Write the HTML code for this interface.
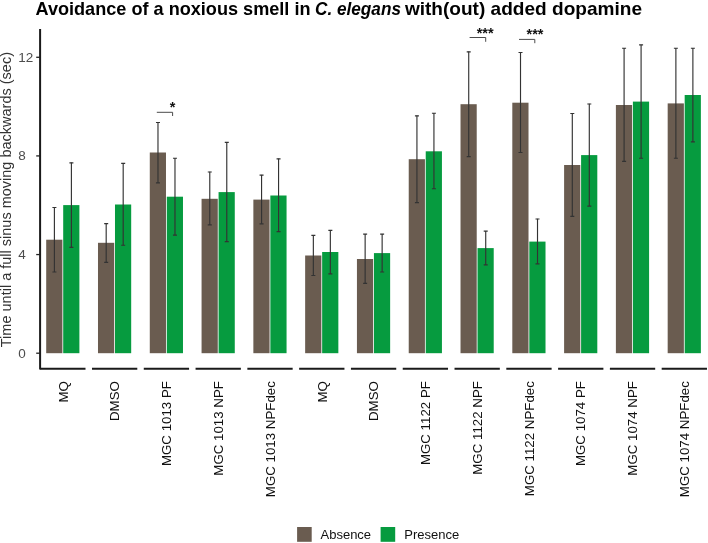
<!DOCTYPE html>
<html><head><meta charset="utf-8"><style>
html,body{margin:0;padding:0;background:#fff;}
body{width:708px;height:543px;overflow:hidden;}
svg{display:block;will-change:transform;opacity:0.999;}
text{font-family:"Liberation Sans",sans-serif;}
.tt{font-size:19px;font-weight:bold;fill:#000;}
.yt{font-size:13.5px;fill:#4d4d4d;}
.yl{font-size:14.5px;fill:#333;}
.xl{font-size:13.3px;fill:#111;}
.lg{font-size:13px;fill:#111;}
.sig{font-size:14.5px;fill:#111;font-weight:bold;}
</style></head><body>
<svg width="708" height="543" viewBox="0 0 708 543">
<rect width="708" height="543" fill="#fff"/>
<rect x="46.20" y="239.70" width="16.2" height="113.50" fill="#6a5c50"/>
<rect x="63.20" y="205.10" width="16.2" height="148.10" fill="#069b3f"/>
<path d="M54.40 207.30V272.00" stroke="#333333" stroke-width="1.15" fill="none"/>
<path d="M52.40 207.50H56.40M52.40 272.00H56.40" stroke="#333333" stroke-width="1.15" fill="none"/>
<path d="M71.40 162.60V247.40" stroke="#333333" stroke-width="1.15" fill="none"/>
<path d="M69.40 162.80H73.40M69.40 247.40H73.40" stroke="#333333" stroke-width="1.15" fill="none"/>
<path d="M40.20 368.8H85.50" stroke="#1a1a1a" stroke-width="2"/>
<text transform="translate(67.55 381.1) rotate(-90)" text-anchor="end" class="xl">MQ</text>
<rect x="97.99" y="242.80" width="16.2" height="110.40" fill="#6a5c50"/>
<rect x="114.99" y="204.50" width="16.2" height="148.70" fill="#069b3f"/>
<path d="M106.19 223.40V262.40" stroke="#333333" stroke-width="1.15" fill="none"/>
<path d="M104.19 223.60H108.19M104.19 262.40H108.19" stroke="#333333" stroke-width="1.15" fill="none"/>
<path d="M123.19 163.20V245.20" stroke="#333333" stroke-width="1.15" fill="none"/>
<path d="M121.19 163.40H125.19M121.19 245.20H125.19" stroke="#333333" stroke-width="1.15" fill="none"/>
<path d="M91.99 368.8H137.29" stroke="#1a1a1a" stroke-width="2"/>
<text transform="translate(119.34 381.1) rotate(-90)" text-anchor="end" class="xl">DMSO</text>
<rect x="149.78" y="152.50" width="16.2" height="200.70" fill="#6a5c50"/>
<rect x="166.78" y="196.70" width="16.2" height="156.50" fill="#069b3f"/>
<path d="M157.98 122.30V182.90" stroke="#333333" stroke-width="1.15" fill="none"/>
<path d="M155.98 122.50H159.98M155.98 182.90H159.98" stroke="#333333" stroke-width="1.15" fill="none"/>
<path d="M174.98 158.00V235.10" stroke="#333333" stroke-width="1.15" fill="none"/>
<path d="M172.98 158.20H176.98M172.98 235.10H176.98" stroke="#333333" stroke-width="1.15" fill="none"/>
<path d="M143.78 368.8H189.08" stroke="#1a1a1a" stroke-width="2"/>
<text transform="translate(171.13 381.1) rotate(-90)" text-anchor="end" class="xl">MGC 1013 PF</text>
<rect x="201.57" y="198.80" width="16.2" height="154.40" fill="#6a5c50"/>
<rect x="218.57" y="192.10" width="16.2" height="161.10" fill="#069b3f"/>
<path d="M209.77 171.80V224.90" stroke="#333333" stroke-width="1.15" fill="none"/>
<path d="M207.77 172.00H211.77M207.77 224.90H211.77" stroke="#333333" stroke-width="1.15" fill="none"/>
<path d="M226.77 142.10V241.60" stroke="#333333" stroke-width="1.15" fill="none"/>
<path d="M224.77 142.30H228.77M224.77 241.60H228.77" stroke="#333333" stroke-width="1.15" fill="none"/>
<path d="M195.57 368.8H240.87" stroke="#1a1a1a" stroke-width="2"/>
<text transform="translate(222.92 381.1) rotate(-90)" text-anchor="end" class="xl">MGC 1013 NPF</text>
<rect x="253.36" y="199.60" width="16.2" height="153.60" fill="#6a5c50"/>
<rect x="270.36" y="195.50" width="16.2" height="157.70" fill="#069b3f"/>
<path d="M261.56 174.90V223.80" stroke="#333333" stroke-width="1.15" fill="none"/>
<path d="M259.56 175.10H263.56M259.56 223.80H263.56" stroke="#333333" stroke-width="1.15" fill="none"/>
<path d="M278.56 158.60V231.60" stroke="#333333" stroke-width="1.15" fill="none"/>
<path d="M276.56 158.80H280.56M276.56 231.60H280.56" stroke="#333333" stroke-width="1.15" fill="none"/>
<path d="M247.36 368.8H292.66" stroke="#1a1a1a" stroke-width="2"/>
<text transform="translate(274.71 381.1) rotate(-90)" text-anchor="end" class="xl">MGC 1013 NPFdec</text>
<rect x="305.15" y="255.50" width="16.2" height="97.70" fill="#6a5c50"/>
<rect x="322.15" y="252.00" width="16.2" height="101.20" fill="#069b3f"/>
<path d="M313.35 235.10V275.50" stroke="#333333" stroke-width="1.15" fill="none"/>
<path d="M311.35 235.30H315.35M311.35 275.50H315.35" stroke="#333333" stroke-width="1.15" fill="none"/>
<path d="M330.35 230.10V273.90" stroke="#333333" stroke-width="1.15" fill="none"/>
<path d="M328.35 230.30H332.35M328.35 273.90H332.35" stroke="#333333" stroke-width="1.15" fill="none"/>
<path d="M299.15 368.8H344.45" stroke="#1a1a1a" stroke-width="2"/>
<text transform="translate(326.50 381.1) rotate(-90)" text-anchor="end" class="xl">MQ</text>
<rect x="356.94" y="259.00" width="16.2" height="94.20" fill="#6a5c50"/>
<rect x="373.94" y="253.10" width="16.2" height="100.10" fill="#069b3f"/>
<path d="M365.14 233.90V283.30" stroke="#333333" stroke-width="1.15" fill="none"/>
<path d="M363.14 234.10H367.14M363.14 283.30H367.14" stroke="#333333" stroke-width="1.15" fill="none"/>
<path d="M382.14 233.90V272.00" stroke="#333333" stroke-width="1.15" fill="none"/>
<path d="M380.14 234.10H384.14M380.14 272.00H384.14" stroke="#333333" stroke-width="1.15" fill="none"/>
<path d="M350.94 368.8H396.24" stroke="#1a1a1a" stroke-width="2"/>
<text transform="translate(378.29 381.1) rotate(-90)" text-anchor="end" class="xl">DMSO</text>
<rect x="408.73" y="159.20" width="16.2" height="194.00" fill="#6a5c50"/>
<rect x="425.73" y="151.30" width="16.2" height="201.90" fill="#069b3f"/>
<path d="M416.93 115.60V202.60" stroke="#333333" stroke-width="1.15" fill="none"/>
<path d="M414.93 115.80H418.93M414.93 202.60H418.93" stroke="#333333" stroke-width="1.15" fill="none"/>
<path d="M433.93 113.00V188.70" stroke="#333333" stroke-width="1.15" fill="none"/>
<path d="M431.93 113.20H435.93M431.93 188.70H435.93" stroke="#333333" stroke-width="1.15" fill="none"/>
<path d="M402.73 368.8H448.03" stroke="#1a1a1a" stroke-width="2"/>
<text transform="translate(430.08 381.1) rotate(-90)" text-anchor="end" class="xl">MGC 1122 PF</text>
<rect x="460.52" y="104.20" width="16.2" height="249.00" fill="#6a5c50"/>
<rect x="477.52" y="248.10" width="16.2" height="105.10" fill="#069b3f"/>
<path d="M468.72 51.60V156.60" stroke="#333333" stroke-width="1.15" fill="none"/>
<path d="M466.72 51.80H470.72M466.72 156.60H470.72" stroke="#333333" stroke-width="1.15" fill="none"/>
<path d="M485.72 230.90V264.90" stroke="#333333" stroke-width="1.15" fill="none"/>
<path d="M483.72 231.10H487.72M483.72 264.90H487.72" stroke="#333333" stroke-width="1.15" fill="none"/>
<path d="M454.52 368.8H499.82" stroke="#1a1a1a" stroke-width="2"/>
<text transform="translate(481.87 381.1) rotate(-90)" text-anchor="end" class="xl">MGC 1122 NPF</text>
<rect x="512.31" y="102.70" width="16.2" height="250.50" fill="#6a5c50"/>
<rect x="529.31" y="241.60" width="16.2" height="111.60" fill="#069b3f"/>
<path d="M520.51 52.30V152.50" stroke="#333333" stroke-width="1.15" fill="none"/>
<path d="M518.51 52.50H522.51M518.51 152.50H522.51" stroke="#333333" stroke-width="1.15" fill="none"/>
<path d="M537.51 218.80V263.80" stroke="#333333" stroke-width="1.15" fill="none"/>
<path d="M535.51 219.00H539.51M535.51 263.80H539.51" stroke="#333333" stroke-width="1.15" fill="none"/>
<path d="M506.31 368.8H551.61" stroke="#1a1a1a" stroke-width="2"/>
<text transform="translate(533.66 381.1) rotate(-90)" text-anchor="end" class="xl">MGC 1122 NPFdec</text>
<rect x="564.10" y="165.00" width="16.2" height="188.20" fill="#6a5c50"/>
<rect x="581.10" y="155.10" width="16.2" height="198.10" fill="#069b3f"/>
<path d="M572.30 113.30V216.30" stroke="#333333" stroke-width="1.15" fill="none"/>
<path d="M570.30 113.50H574.30M570.30 216.30H574.30" stroke="#333333" stroke-width="1.15" fill="none"/>
<path d="M589.30 103.80V206.10" stroke="#333333" stroke-width="1.15" fill="none"/>
<path d="M587.30 104.00H591.30M587.30 206.10H591.30" stroke="#333333" stroke-width="1.15" fill="none"/>
<path d="M558.10 368.8H603.40" stroke="#1a1a1a" stroke-width="2"/>
<text transform="translate(585.45 381.1) rotate(-90)" text-anchor="end" class="xl">MGC 1074 PF</text>
<rect x="615.89" y="105.00" width="16.2" height="248.20" fill="#6a5c50"/>
<rect x="632.89" y="101.60" width="16.2" height="251.60" fill="#069b3f"/>
<path d="M624.09 48.00V161.40" stroke="#333333" stroke-width="1.15" fill="none"/>
<path d="M622.09 48.20H626.09M622.09 161.40H626.09" stroke="#333333" stroke-width="1.15" fill="none"/>
<path d="M641.09 44.70V158.20" stroke="#333333" stroke-width="1.15" fill="none"/>
<path d="M639.09 44.90H643.09M639.09 158.20H643.09" stroke="#333333" stroke-width="1.15" fill="none"/>
<path d="M609.89 368.8H655.19" stroke="#1a1a1a" stroke-width="2"/>
<text transform="translate(637.24 381.1) rotate(-90)" text-anchor="end" class="xl">MGC 1074 NPF</text>
<rect x="667.68" y="103.40" width="16.2" height="249.80" fill="#6a5c50"/>
<rect x="684.68" y="95.00" width="16.2" height="258.20" fill="#069b3f"/>
<path d="M675.88 48.00V158.20" stroke="#333333" stroke-width="1.15" fill="none"/>
<path d="M673.88 48.20H677.88M673.88 158.20H677.88" stroke="#333333" stroke-width="1.15" fill="none"/>
<path d="M692.88 48.00V141.90" stroke="#333333" stroke-width="1.15" fill="none"/>
<path d="M690.88 48.20H694.88M690.88 141.90H694.88" stroke="#333333" stroke-width="1.15" fill="none"/>
<path d="M661.68 368.8H706.98" stroke="#1a1a1a" stroke-width="2"/>
<text transform="translate(689.03 381.1) rotate(-90)" text-anchor="end" class="xl">MGC 1074 NPFdec</text>
<path d="M40.1 29.0V369.6" stroke="#1a1a1a" stroke-width="2"/>
<path d="M36.2 353.20H40" stroke="#222" stroke-width="1.3"/>
<text x="18.3" y="357.50" class="yt">0</text>
<path d="M36.2 254.56H40" stroke="#222" stroke-width="1.3"/>
<text x="18.3" y="258.86" class="yt">4</text>
<path d="M36.2 155.92H40" stroke="#222" stroke-width="1.3"/>
<text x="18.3" y="160.22" class="yt">8</text>
<path d="M36.2 57.28H40" stroke="#222" stroke-width="1.3"/>
<text x="18.3" y="61.58" class="yt">12</text>
<path d="M156.80 112.3H172.60V116.0" stroke="#4a4a4a" stroke-width="1" fill="none"/>
<text x="172.50" y="112.30" text-anchor="middle" class="sig">*</text>
<path d="M469.60 37.5H485.70V41.8" stroke="#4a4a4a" stroke-width="1" fill="none"/>
<text x="485.10" y="37.50" text-anchor="middle" class="sig">***</text>
<path d="M519.00 39.4H534.80V43.2" stroke="#4a4a4a" stroke-width="1" fill="none"/>
<text x="535.00" y="39.30" text-anchor="middle" class="sig">***</text>
<rect x="297.1" y="527.0" width="14.6" height="14.8" fill="#6a5c50"/>
<rect x="380.6" y="527.0" width="14.6" height="14.8" fill="#069b3f"/>
<text x="320.5" y="539.3" class="lg">Absence</text>
<text x="404.3" y="539.3" class="lg">Presence</text>
<text transform="translate(11.2 347.2) rotate(-90)" class="yl">Time until a full sinus moving backwards (sec)</text>
<text x="35.5" y="15.3" class="tt" textLength="275" lengthAdjust="spacingAndGlyphs">Avoidance of a noxious smell in</text>
<text x="315.0" y="15.3" class="tt" font-style="italic" textLength="86" lengthAdjust="spacingAndGlyphs">C. elegans</text>
<text x="404.9" y="15.3" class="tt" textLength="237.1" lengthAdjust="spacingAndGlyphs">with(out) added dopamine</text>
</svg>
</body></html>
